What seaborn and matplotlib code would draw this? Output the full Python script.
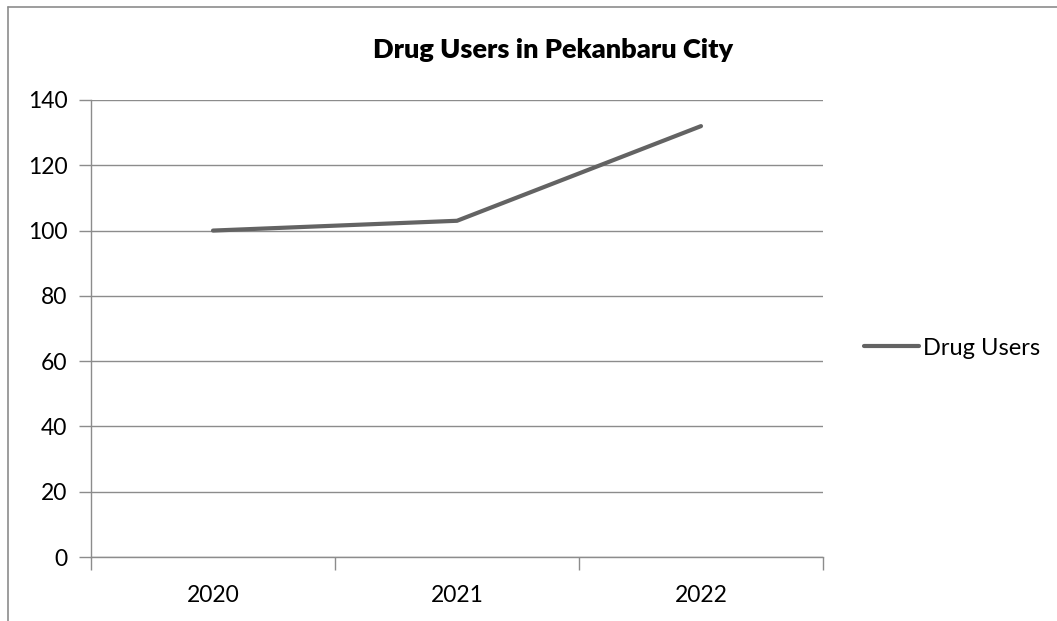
import matplotlib
matplotlib.use("Agg")
import matplotlib.pyplot as plt
from matplotlib.lines import Line2D
import seaborn as sns
import pandas as pd

years = ["2020", "2021", "2022"]
drug_users = [100, 103, 132]
series_name = "Drug Users"
title = "Drug Users in Pekanbaru City"
y_ticks = [0, 20, 40, 60, 80, 100, 120, 140]

sns.set_style("white")
plt.rcParams["font.family"] = ["Lato", "DejaVu Sans"]
plt.rcParams["text.color"] = "black"
plt.rcParams["xtick.labelcolor"] = "black"
plt.rcParams["ytick.labelcolor"] = "black"

df = pd.DataFrame({"pos": range(len(years)), "value": drug_users, "series": series_name})

W, H = 1057, 621
fig = plt.figure(figsize=(W / 100, H / 100), dpi=100)
ax = fig.add_axes([91 / W, 1 - 557 / H, (823 - 91) / W, (557 - 100) / H])

grid_c = "#8c8c8c"
line_c = "#636363"

sns.lineplot(data=df, x="pos", y="value", hue="series", palette=[line_c],
             linewidth=3, ax=ax, legend=True)

fs = 16.5
ax.set_xlim(-0.5, len(years) - 0.5)
ax.set_ylim(0, 140)
ax.set_yticks(y_ticks)
ax.set_yticklabels([str(v) for v in y_ticks], fontsize=fs, color="black")
ax.yaxis.grid(True, color=grid_c, linewidth=1)
ax.set_axisbelow(True)

ax.set_xticks([i - 0.5 for i in range(len(years) + 1)])
ax.set_xticklabels([""] * (len(years) + 1))
ax.set_xticks(range(len(years)), minor=True)
ax.set_xticklabels(years, minor=True, fontsize=fs, color="black")
ax.tick_params(axis="x", which="major", direction="out", length=9, width=1, color=grid_c, bottom=True)
ax.tick_params(axis="x", which="minor", length=0, pad=20)
ax.tick_params(axis="y", direction="out", length=9, width=1, color=grid_c, left=True, pad=8)

for s in ["top", "right"]:
    ax.spines[s].set_visible(False)
for s in ["left", "bottom"]:
    ax.spines[s].set_color(grid_c)
    ax.spines[s].set_linewidth(1)

ax.set_xlabel("")
ax.set_ylabel("")

leg = ax.get_legend()
handles, labels = ax.get_legend_handles_labels()
leg.remove()
fig.legend(handles, labels, loc="center left", bbox_to_anchor=(843 / W, 1 - 348 / H),
           frameon=False, fontsize=17, handlelength=2.3, handletextpad=0.2,
           labelcolor="black")

fig.text((373 + 733) / 2 / W, 1 - 50 / H, title, ha="center", va="center",
         fontsize=19.5, fontweight="heavy", color="black")

# chart border (left and top edges visible)
fig.add_artist(Line2D([8 / W, 8 / W], [1 - 7 / H, 0], transform=fig.transFigure,
                      color="#8c8c8c", linewidth=1.2))
fig.add_artist(Line2D([8 / W, 1], [1 - 7 / H, 1 - 7 / H], transform=fig.transFigure,
                      color="#8c8c8c", linewidth=1.2))

fig.savefig("out.png", dpi=100)
